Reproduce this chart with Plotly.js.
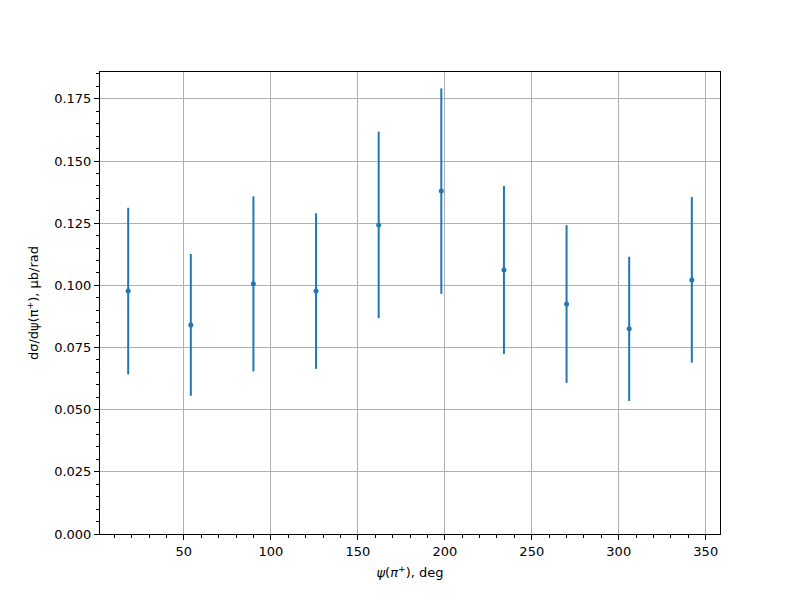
<!DOCTYPE html>
<html><head><meta charset="utf-8">
<script src="https://cdn.plot.ly/plotly-3.0.1.min.js"></script>
<style>body{margin:0}#plot{width:800px;height:600px}</style>
</head><body><div id="plot"></div>
<script>
const psi = [18, 54, 90, 126, 162, 198, 234, 270, 306, 342];
const dsigma = [0.0977, 0.0841, 0.1006, 0.0977, 0.1243, 0.1379, 0.1062, 0.0925, 0.0825, 0.1022];
const err = [0.0335, 0.0285, 0.0352, 0.0313, 0.0375, 0.0413, 0.0338, 0.0317, 0.0290, 0.0333];
const xTicks = [50, 100, 150, 200, 250, 300, 350];
const yTicks = [0, 0.025, 0.05, 0.075, 0.1, 0.125, 0.15, 0.175];

const font = {family: 'DejaVu Sans', size: 13, color: '#000'};
const trace = {
  x: psi, y: dsigma, type: 'scatter', mode: 'markers',
  marker: {color: '#1f77b4', size: 5},
  error_y: {type: 'data', array: err, visible: true, color: '#1f77b4', thickness: 2, width: 0}
};
const axisBase = {
  showline: true, linecolor: '#000', linewidth: 1, mirror: true,
  ticks: 'outside', ticklen: 5, tickwidth: 1, tickcolor: '#000',
  showgrid: true, gridcolor: '#b0b0b0', gridwidth: 1, zeroline: false,
  tickfont: font
};
const layout = {
  width: 800, height: 600,
  margin: {l: 100, r: 80, t: 72, b: 66},
  paper_bgcolor: '#fff', plot_bgcolor: '#fff',
  showlegend: false,
  xaxis: Object.assign({}, axisBase, {
    range: [1.8, 358.2], tickmode: 'array', tickvals: xTicks,
    minor: {dtick: 10, tick0: 0, ticklen: 3, tickcolor: '#000', ticks: 'outside', showgrid: false},
    title: {text: '<i>ψ</i>(<i>π</i><sup>+</sup>), deg', font: font, standoff: 10}
  }),
  yaxis: Object.assign({}, axisBase, {
    range: [0, 0.1858], tickmode: 'array', tickvals: yTicks, tickformat: '.3f',
    minor: {dtick: 0.005, tick0: 0, ticklen: 3, tickcolor: '#000', ticks: 'outside', showgrid: false},
    title: {text: 'dσ/dψ(π<sup>+</sup>), μb/rad', font: font, standoff: 12}
  })
};
Plotly.newPlot('plot', [trace], layout, {displayModeBar: false, staticPlot: true});
</script></body></html>
